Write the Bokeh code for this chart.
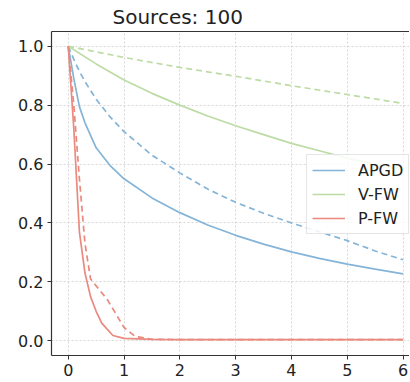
from bokeh.plotting import figure
from bokeh.models import Range1d, LinearAxis, FixedTicker, Legend, LegendItem, Title
from bokeh.embed import file_html
from bokeh.resources import INLINE

# ---- data ----
apgd_x = [0, 0.1, 0.2, 0.3, 0.5, 0.75, 1, 1.5, 2, 2.5, 3, 3.5, 4, 4.5, 5, 5.5, 6]
apgd_solid = [1.0, 0.89, 0.795, 0.74, 0.655, 0.595, 0.55, 0.485, 0.435, 0.393, 0.358, 0.328, 0.302, 0.28, 0.26, 0.243, 0.227]
apgd_dashed = [1.0, 0.955, 0.915, 0.88, 0.82, 0.76, 0.71, 0.63, 0.57, 0.515, 0.47, 0.433, 0.40, 0.37, 0.34, 0.305, 0.275]

vfw_x = [0, 0.5, 1, 1.5, 2, 2.5, 3, 3.5, 4, 4.5, 5, 5.5, 6]
vfw_solid = [1.0, 0.94, 0.885, 0.84, 0.80, 0.763, 0.73, 0.70, 0.67, 0.645, 0.62, 0.60, 0.58]
vfw_dash_x = [0, 1, 2, 3, 4, 5, 6]
vfw_dashed = [1.0, 0.962, 0.928, 0.898, 0.866, 0.836, 0.806]

pfw_x = [0, 0.1, 0.2, 0.3, 0.4, 0.5, 0.6, 0.8, 1.0, 1.5, 2, 3, 4, 5, 6]
pfw_solid = [1.0, 0.72, 0.37, 0.23, 0.15, 0.10, 0.06, 0.018, 0.008, 0.005, 0.004, 0.004, 0.004, 0.004, 0.004]
pfw_dash_x = [0, 0.1, 0.2, 0.3, 0.4, 0.7, 1.0, 1.2, 1.5, 2, 3, 4, 5, 6]
pfw_dashed = [1.0, 0.80, 0.55, 0.33, 0.21, 0.14, 0.045, 0.015, 0.005, 0.004, 0.004, 0.004, 0.004, 0.004]

x_ticks = [0, 1, 2, 3, 4, 5, 6]
y_ticks = [0.0, 0.2, 0.4, 0.6, 0.8, 1.0]
title_text = "Sources: 100"

C_APGD = "#84b4d7"
C_VFW = "#bddca5"
C_PFW = "#ea897e"

FONT = "DejaVu Sans"

p = figure(width=409, height=378, output_backend="svg", toolbar_location=None,
           x_range=Range1d(-0.3, 6.116), y_range=Range1d(-0.05, 1.05),
           min_border_left=51, min_border_right=0, min_border_bottom=20, min_border_top=0)
p.title = Title(text=title_text, text_font=FONT, text_font_size="20px", text_font_style="normal",
                align="left", offset=61, text_color="#222222", standoff=5)
p.outline_line_color = None
p.background_fill_color = "white"

for ax in (p.xaxis[0], p.yaxis[0]):
    ax.axis_line_color = "#333333"
    ax.axis_line_width = 1.2
    ax.major_tick_line_color = "#333333"
    ax.major_tick_out = 4
    ax.major_tick_in = 0
    ax.minor_tick_line_color = None
    ax.major_label_text_font = FONT
    ax.major_label_text_font_size = "16px"
    ax.major_label_text_color = "#222222"
    ax.major_label_standoff = 4
p.xaxis[0].ticker = FixedTicker(ticks=x_ticks)
p.yaxis[0].ticker = FixedTicker(ticks=y_ticks)
p.yaxis[0].major_label_overrides = {v: f"{v:.1f}" for v in y_ticks}

top = LinearAxis(ticker=FixedTicker(ticks=[]), axis_line_color="#333333", axis_line_width=1.2,
                 major_label_text_font_size="0px", major_tick_out=0, major_tick_in=0,
                 minor_tick_line_color=None, major_label_standoff=0)
p.add_layout(top, "above")

p.xgrid.ticker = FixedTicker(ticks=x_ticks)
p.ygrid.ticker = FixedTicker(ticks=y_ticks)
for g in (p.xgrid[0], p.ygrid[0]):
    g.grid_line_color = "#d2d2d2"
    g.grid_line_dash = "2 2"
    g.grid_line_width = 0.9

LW = 1.7
r1 = p.line(apgd_x, apgd_solid, line_color=C_APGD, line_width=LW)
p.line(apgd_x, apgd_dashed, line_color=C_APGD, line_width=LW, line_dash="6 4")
r2 = p.line(vfw_x, vfw_solid, line_color=C_VFW, line_width=LW)
p.line(vfw_dash_x, vfw_dashed, line_color=C_VFW, line_width=LW, line_dash="6 4")
r3 = p.line(pfw_x, pfw_solid, line_color=C_PFW, line_width=LW)
p.line(pfw_dash_x, pfw_dashed, line_color=C_PFW, line_width=LW, line_dash="6 4")

legend = Legend(items=[LegendItem(label="APGD", renderers=[r1]),
                       LegendItem(label="V-FW", renderers=[r2]),
                       LegendItem(label="P-FW", renderers=[r3])],
                location=(255, 121), label_text_font=FONT, label_text_font_size="16px",
                label_text_color="#222222", glyph_width=33, glyph_height=20,
                label_height=20, spacing=4, padding=5, margin=0, label_standoff=13,
                background_fill_color="white", background_fill_alpha=0.85,
                border_line_color="#cccccc", border_line_width=1)
p.add_layout(legend, "center")

open("out.html", "w").write(file_html(p, INLINE))
